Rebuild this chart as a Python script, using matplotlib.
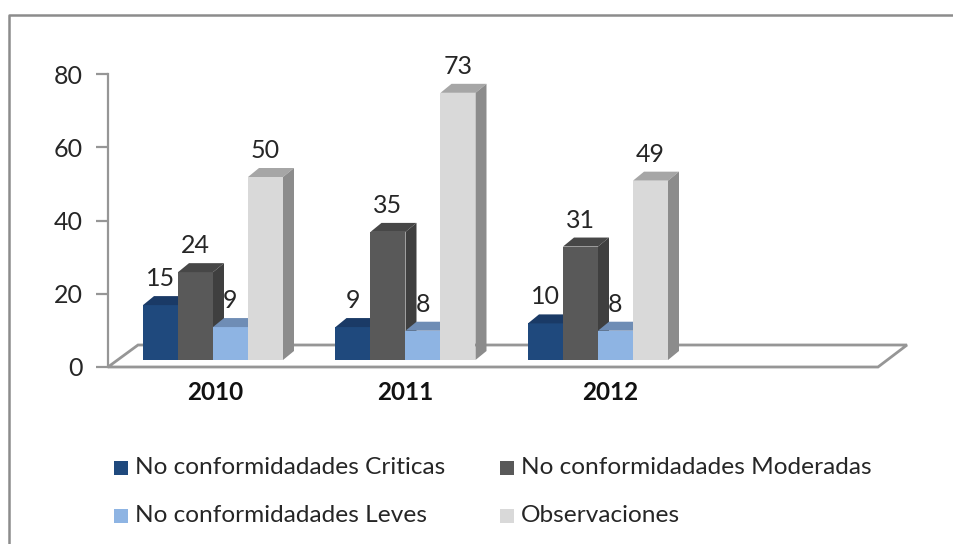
import matplotlib
matplotlib.use("Agg")
import matplotlib.pyplot as plt
from matplotlib.lines import Line2D
from matplotlib.patches import Polygon, Rectangle

W, H = 954, 544

years = ["2010", "2011", "2012"]
criticas = [15, 9, 10]
moderadas = [24, 35, 31]
leves = [9, 8, 8]
observaciones = [50, 73, 49]
series_names = ["No conformidadades Criticas", "No conformidadades Moderadas",
                "No conformidadades Leves", "Observaciones"]
y_ticks = [0, 20, 40, 60, 80]

front = ["#1F497D", "#595959", "#8EB4E3", "#D9D9D9"]
top = ["#1A3A66", "#474747", "#6F8DB5", "#A6A6A6"]
side = ["#17365D", "#3F3F3F", "#6F8DB5", "#8C8C8C"]
grey = "#969696"

plt.rcParams["font.family"] = ["Lato", "DejaVu Sans"]


def px_axes(left, right, ytop, ybottom):
    return fig.add_axes([left / W, 1 - ybottom / H, (right - left) / W, (ybottom - ytop) / H])


fig = plt.figure(figsize=(W / 100, H / 100), dpi=100)

# outer frame is cut off on the right and bottom
fig.add_artist(Line2D([9.5 / W, 9.5 / W, 1], [0, 1 - 14.5 / H, 1 - 14.5 / H], transform=fig.transFigure,
                      color="#8c8c8c", linewidth=1.8))

# bars axes: y=0 sits at the front of the bars, 3.66 px per unit
ax = px_axes(108, 878, 360 - 80 * 3.66, 360)
ax.set_xlim(-105 / 35, 665 / 35)
ax.set_ylim(0, 80)
ax.axis("off")
dx = 11 / 35
dy = 9 / 3.66

# floor, in the same data units
floor_y = -7 / 3.66
back_y = 15 / 3.66
floor_x = [-105 / 35, 665 / 35, 694 / 35, -75 / 35]
ax.add_patch(Polygon(list(zip(floor_x, [floor_y, floor_y, back_y, back_y])), closed=True,
                     facecolor="white", edgecolor=grey, linewidth=2, clip_on=False))

groups = [0, 192.5 / 35, 385 / 35]
all_series = [criticas, moderadas, leves, observaciones]
for g, g_x in enumerate(groups):
    for s, vals in enumerate(all_series):
        x0 = g_x + s - 2
        v = vals[g]
        z = 4 + s
        ax.bar(x0, v, width=1, align="edge", color=front[s], zorder=z, clip_on=False)
        ax.add_patch(Polygon([(x0, v), (x0 + 1, v), (x0 + 1 + dx, v + dy), (x0 + dx, v + dy)],
                             facecolor=top[s], edgecolor="none", zorder=z, clip_on=False))
        ax.add_patch(Polygon([(x0 + 1, 0), (x0 + 1 + dx, dy), (x0 + 1 + dx, v + dy), (x0 + 1, v)],
                             facecolor=side[s], edgecolor="none", zorder=z, clip_on=False))
        # label goes under the previous bar, the 9 and 8 get partly hidden
        ax.text(x0 + 0.5, v + 4.1, str(v), ha="center", va="bottom", fontsize=18,
                color="#262626", zorder=2.5 + s)

# year labels, the 2012 one sits a bit right of its group in the original
label_x = [2 / 35, 192.5 / 35, 397 / 35]
for x, year in zip(label_x, years):
    ax.text(x, -32 / 3.66, year, ha="center", va="center", fontsize=17.5, fontweight="bold",
            color="#111111")

# value axis, drawn at the front left of the floor
ay = px_axes(108, 878, 74, 367)
ay.patch.set_alpha(0)
ay.set_ylim(0, 80)
ay.set_yticks(y_ticks)
ay.set_xticks([])
for name in ["top", "right", "bottom"]:
    ay.spines[name].set_visible(False)
ay.spines["left"].set_color(grey)
ay.spines["left"].set_linewidth(1.6)
ay.tick_params(axis="y", length=9, width=1.6, color=grey, labelsize=18, labelcolor="#262626", pad=9)

# legend
leg_pos = [(114, 468), (500, 468), (114, 516), (500, 516)]
for (lx, ly), name, c in zip(leg_pos, series_names, front):
    fig.add_artist(Rectangle((lx / W, 1 - (ly + 7) / H), 14 / W, 14 / H, transform=fig.transFigure,
                             facecolor=c, edgecolor="none"))
    fig.text((lx + 21) / W, 1 - ly / H, name, ha="left", va="center", fontsize=17.6, color="#262626")

fig.savefig("out.png", dpi=100)
